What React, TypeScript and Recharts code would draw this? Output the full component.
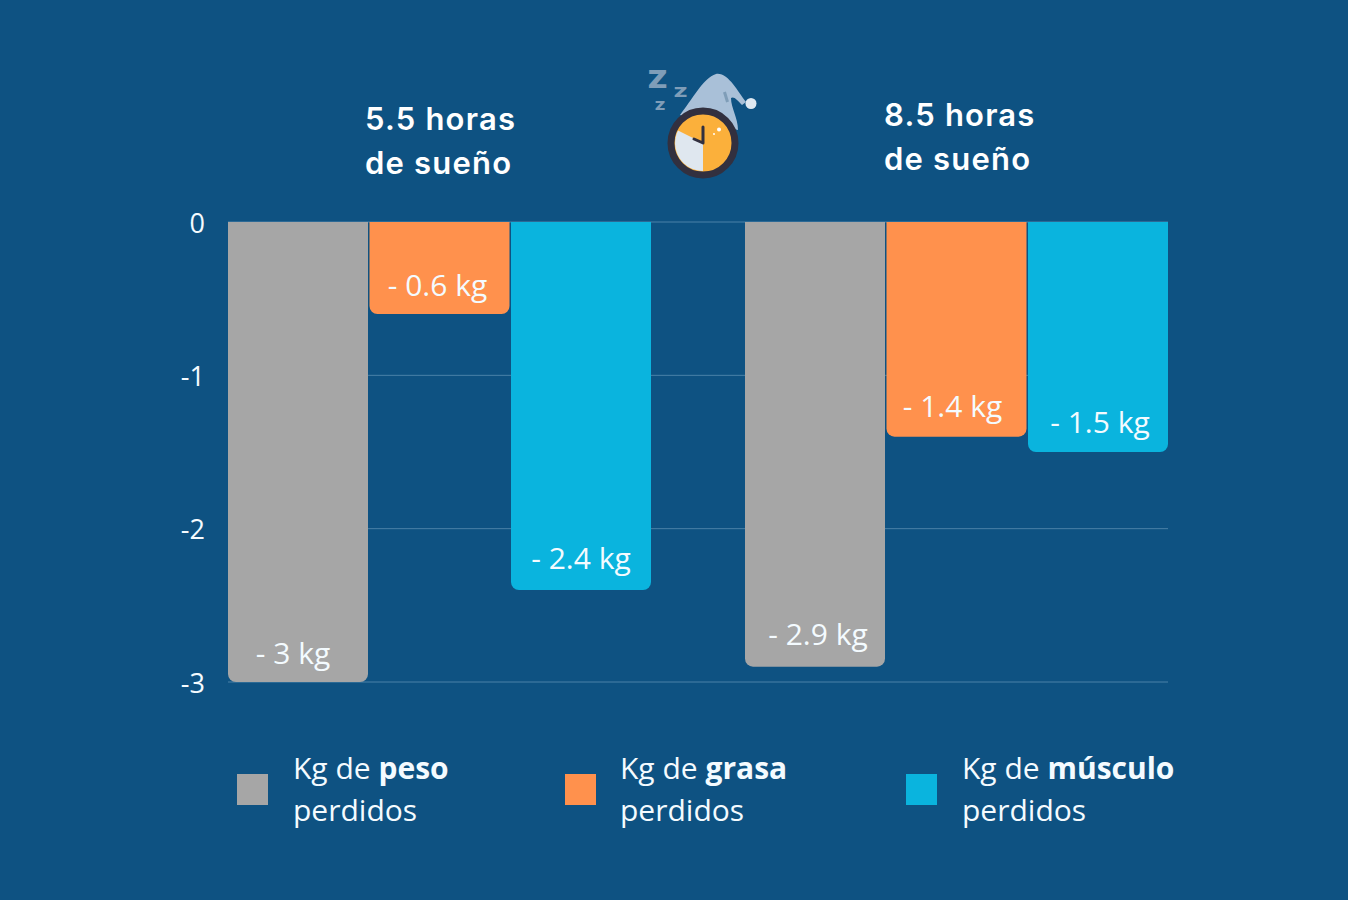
import { BarChart, Bar, XAxis, YAxis, CartesianGrid, LabelList, Legend } from "recharts";

const categories = ["5.5 horas", "8.5 horas"];
const peso = [-3, -2.9];
const grasa = [-0.6, -1.4];
const musculo = [-2.4, -1.5];
const yTicks = [0, -1, -2, -3];

const seriesNames = ["peso", "grasa", "músculo"];

const data = categories.map((name, i) => ({
    name,
    peso: peso[i],
    grasa: grasa[i],
    musculo: musculo[i],
}));

const BG = "#0e5282";
const GRAY = "#a6a6a6";
const ORANGE = "#ff914d";
const BLUE = "#0ab4de";
const TEXT = "#f4fbff";
const FONT = "'Open Sans', sans-serif";

// pequeños ajustes de las etiquetas, [dx, dy] por barra
const pesoNudge = [[-5, 0], [3, -4]];
const grasaNudge = [[-2, 0], [-4, -2]];
const musculoNudge = [[0, -3], [2, -1]];

function barLabel(nudge: number[][]) {
    return (props: any) => {
        const box = props.viewBox ?? props;
        const bottom = Math.max(box.y, box.y + box.height);
        const [dx, dy] = nudge[props.index] ?? [0, 0];
        return (
            <text
                x={box.x + box.width / 2 + dx}
                y={bottom - 18 + dy}
                textAnchor="middle"
                fontFamily={FONT}
                fontSize={30}
                fill={TEXT}
            >
                {`- ${Math.abs(props.value)} kg`}
            </text>
        );
    };
}

function LegendBlock() {
    const squares = [237, 565, 906];
    const labels = [293, 620, 962];
    const colors = [GRAY, ORANGE, BLUE];
    return (
        <div style={{ position: "relative", width: 1348, height: 100, fontFamily: FONT, color: TEXT, fontSize: 30 }}>
            {seriesNames.map((n, i) => (
                <div key={n}>
                    <div style={{ position: "absolute", left: squares[i], top: 27, width: 31, height: 31, background: colors[i] }} />
                    <div style={{ position: "absolute", left: labels[i], top: 0, lineHeight: "42px", whiteSpace: "nowrap", textAlign: "left" }}>
                        Kg de <b>{n}</b>
                        <br />
                        perdidos
                    </div>
                </div>
            ))}
        </div>
    );
}

function SleepIcon() {
    const zStyle = { fontFamily: FONT, fontWeight: 800, fill: "#7f9db8" };
    return (
        <svg width={140} height={130} viewBox="630 60 140 130" style={{ position: "absolute", left: 630, top: 60 }}>
            <text x={648} y={88} fontSize={24} textLength={19} lengthAdjust="spacingAndGlyphs" {...zStyle}>Z</text>
            <text x={674} y={97} fontSize={14} textLength={13} lengthAdjust="spacingAndGlyphs" {...zStyle}>Z</text>
            <text x={655} y={110} fontSize={13} textLength={10} lengthAdjust="spacingAndGlyphs" {...zStyle}>Z</text>
            <path
                d="M680 115 C692 100 703 78 716 74 C728 72 738 92 746 102 L742 105 C737 100 734 96 731 98 C731 108 738 118 738 130 L700 120 Z"
                fill="#a9c0d8"
            />
            <line x1={724.5} y1={92} x2={727.5} y2={102} stroke="#7f9db8" strokeWidth={3} />
            <circle cx={751} cy={103.5} r={5.5} fill="#dfe9f2" />
            <circle cx={703} cy={143} r={32} fill="#fbb03b" stroke="#32303f" strokeWidth={7} />
            <path d="M703 143 L703 171 A28 28 0 0 1 678 130.5 Z" fill="#dfe7ef" />
            <path d="M703 127 L703 143 L694 139" fill="none" stroke="#32303f" strokeWidth={3} strokeLinecap="round" strokeLinejoin="round" />
            <circle cx={719} cy={129.5} r={2} fill="#fff" />
            <circle cx={714} cy={134} r={1} fill="#fff" />
        </svg>
    );
}

const titleStyle = {
    position: "absolute",
    fontFamily: "Inter, sans-serif",
    fontWeight: 600,
    fontSize: 31,
    letterSpacing: 1.2,
    lineHeight: "44px",
    color: "#ffffff",
    whiteSpace: "pre",
} as const;

export default function App() {
    return (
        <div style={{ position: "absolute", left: 0, top: 0, width: 1348, height: 900, background: BG, overflow: "hidden" }}>
            <BarChart
                width={1348}
                height={900}
                data={data}
                margin={{ top: 222, right: 180, bottom: 118, left: 168 }}
                barSize={140}
                barGap={1.5}
                barCategoryGap={47}
            >
                <CartesianGrid vertical={false} stroke="#4a81a8" strokeWidth={1} />
                <XAxis dataKey="name" hide padding={{ left: -47, right: -47 }} />
                <YAxis
                    width={60}
                    domain={[-3, 0]}
                    ticks={yTicks}
                    tickLine={false}
                    axisLine={false}
                    tickMargin={17}
                    tick={{ fontFamily: FONT, fontSize: 27, fill: TEXT, dy: 1 }}
                />
                <Bar dataKey="peso" fill={GRAY} radius={[8, 8, 0, 0]} isAnimationActive={false}>
                    <LabelList dataKey="peso" content={barLabel(pesoNudge)} />
                </Bar>
                <Bar dataKey="grasa" fill={ORANGE} radius={[8, 8, 0, 0]} isAnimationActive={false}>
                    <LabelList dataKey="grasa" content={barLabel(grasaNudge)} />
                </Bar>
                <Bar dataKey="musculo" fill={BLUE} radius={[8, 8, 0, 0]} isAnimationActive={false}>
                    <LabelList dataKey="musculo" content={barLabel(musculoNudge)} />
                </Bar>
                <Legend
                    content={() => <LegendBlock />}
                    wrapperStyle={{ left: 0, top: 747, width: 1348, bottom: "auto" }}
                />
            </BarChart>
            <div style={{ ...titleStyle, left: 365, top: 97 }}>{categories[0]}{"\n"}de sueño</div>
            <div style={{ ...titleStyle, left: 884, top: 93 }}>{categories[1]}{"\n"}de sueño</div>
            <SleepIcon />
        </div>
    );
}
